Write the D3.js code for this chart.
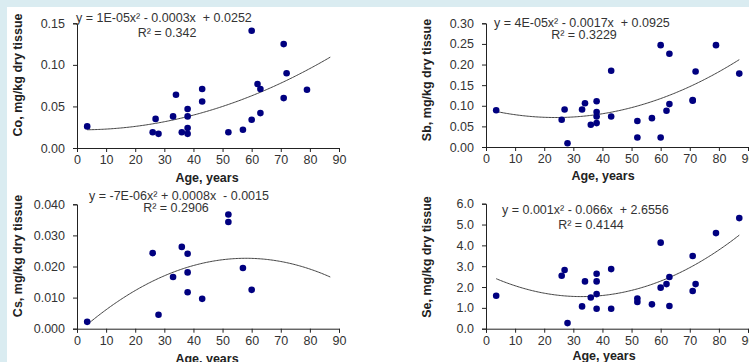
<!DOCTYPE html>
<html><head><meta charset="utf-8">
<script src="https://cdn.jsdelivr.net/npm/d3@7"></script>
<style>
html,body{margin:0;padding:0;background:#daecf1;}
svg{display:block;font-family:"Liberation Sans",Arial,sans-serif;}
</style></head>
<body>
<svg id="c" width="749" height="362"></svg>
<script>
// ---- data ----
const coAge = [3.5,26,27,28,33,34,36,38,38,38,38,43,43,52,57,60,60,62,63,63,71,71,72,79];
const coVal = [0.026,0.019,0.035,0.017,0.038,0.064,0.019,0.047,0.038,0.024,0.017,0.071,0.056,0.019,0.022,0.141,0.034,0.077,0.071,0.042,0.125,0.060,0.090,0.070];
const sbAge = [3.5,26,27,28,33,34,36,38,38,38,38,43,43,52,52,57,60,60,62,63,63,71,71,72,79,87];
const sbVal = [0.089,0.066,0.091,0.009,0.091,0.106,0.054,0.111,0.085,0.074,0.058,0.185,0.074,0.063,0.023,0.070,0.247,0.023,0.088,0.226,0.104,0.112,0.114,0.183,0.247,0.178];
const csAge = [3.5,26,28,33,36,38,38,38,43,52,52,57,60];
const csVal = [0.0022,0.0243,0.0045,0.0166,0.0263,0.0241,0.0181,0.0117,0.0096,0.0367,0.0343,0.0195,0.0125];
const seAge = [3.5,26,27,28,33,34,36,38,38,38,38,43,43,52,52,57,60,60,62,63,63,71,71,72,79,87];
const seVal = [1.58,2.54,2.82,0.27,1.07,2.27,1.5,2.64,2.27,1.66,0.96,2.86,0.96,1.45,1.28,1.17,4.13,1.97,2.14,2.48,1.09,3.49,1.81,2.14,4.59,5.31];
const trendRange = [3.5, 87];
const xTicks = [0,10,20,30,40,50,60,70,80,90];
const coTicks = [0,0.05,0.10,0.15];
const sbTicks = [0,0.05,0.10,0.15,0.20,0.25,0.30];
const csTicks = [0,0.01,0.02,0.03,0.04];
const seTicks = [0,1,2,3,4,5,6];
const yTitles = ["Co, mg/kg dry tissue","Sb, mg/kg dry tissue","Cs, mg/kg dry tissue","Se, mg/kg dry tissue"];
const xTitle = "Age, years";
const equations = ["y = 1E-05x² - 0.0003x  + 0.0252","y = 4E-05x² - 0.0017x  + 0.0925","y = -7E-06x² + 0.0008x  - 0.0015","y = 0.001x² - 0.066x  + 2.6556"];
const rSquared = ["R² = 0.342","R² = 0.3229","R² = 0.2906","R² = 0.4144"];

// ---- helpers ----
function quadFit(xs, ys){
  let S=[0,0,0,0,0], T=[0,0,0];
  xs.forEach((x,i)=>{const y=ys[i];let p=1;for(let k=0;k<5;k++){S[k]+=p;if(k<3)T[k]+=p*y;p*=x;}});
  const A=[[S[0],S[1],S[2],T[0]],[S[1],S[2],S[3],T[1]],[S[2],S[3],S[4],T[2]]];
  for(let i=0;i<3;i++){for(let j=i+1;j<3;j++){const f=A[j][i]/A[i][i];for(let k=i;k<4;k++)A[j][k]-=f*A[i][k];}}
  const c=[0,0,0];
  for(let i=2;i>=0;i--){let s=A[i][3];for(let k=i+1;k<3;k++)s-=A[i][k]*c[k];c[i]=s/A[i][i];}
  return x=>c[0]+c[1]*x+c[2]*x*x;
}

const svg = d3.select("#c");
svg.append("rect").attr("x",7).attr("y",7).attr("width",742).attr("height",355).attr("fill","#fff");

const panels = [
  {age:coAge,val:coVal,ticks:coTicks,dom:[0,0.15],fmt:".2f",L:77,R:339,T:23.3,B:148,tx:18,ty:75,
   eq:[76,18],r2:[167,33],xt:[207,182]},
  {age:sbAge,val:sbVal,ticks:sbTicks,dom:[0,0.30],fmt:".2f",L:486,R:748,T:23.3,B:147,tx:427,ty:80,
   eq:[494,23],r2:[584,35],xt:[603,180]},
  {age:csAge,val:csVal,ticks:csTicks,dom:[0,0.04],fmt:".3f",L:77,R:339,T:204.3,B:328.7,tx:18,ty:256,
   eq:[89,196],r2:[176,208],xt:[207,363]},
  {age:seAge,val:seVal,ticks:seTicks,dom:[0,6],fmt:".1f",L:486,R:748,T:203.7,B:328.7,tx:427,ty:257,
   eq:[502,210],r2:[591,225],xt:[604,360]}
];

panels.forEach((p,i)=>{
  const x = d3.scaleLinear().domain([0,90]).range([p.L,p.R]);
  const y = d3.scaleLinear().domain(p.dom).range([p.B,p.T]);
  const g = svg.append("g");
  // axes
  const ya = g.append("g").attr("transform",`translate(${p.L},0)`)
    .call(d3.axisLeft(y).tickValues(p.ticks).tickFormat(d3.format(p.fmt)).tickSize(4).tickPadding(8));
  const xa = g.append("g").attr("transform",`translate(0,${p.B})`)
    .call(d3.axisBottom(x).tickValues(xTicks).tickSize(4).tickPadding(3));
  [ya,xa].forEach(a=>{
    a.selectAll("path").attr("stroke","#222").attr("stroke-width",1);
    a.selectAll("line").attr("stroke","#222");
    a.selectAll("text").attr("fill","#333").style("font-size","12.5px").style("font-family","'Liberation Sans',Arial,sans-serif");
  });
  // trend
  const f = quadFit(p.age,p.val);
  const tx = d3.range(trendRange[0], trendRange[1]+0.01, 0.5);
  g.append("path").datum(tx)
    .attr("d", d3.line().x(d=>x(d)).y(d=>y(f(d))))
    .attr("fill","none").attr("stroke","#444").attr("stroke-width",1);
  // points
  g.selectAll("circle.pt").data(p.age.map((a,k)=>[a,p.val[k]])).join("circle")
    .attr("cx",d=>x(d[0])).attr("cy",d=>y(d[1])).attr("r",3.3).attr("fill","#000080");
  // titles
  g.append("text").attr("transform",`translate(${p.tx},${p.ty}) rotate(-90)`)
    .attr("text-anchor","middle").attr("dy","0.35em").style("font-weight","bold").style("font-size","12.5px")
    .attr("fill","#222").text(yTitles[i]);
  g.append("text").attr("x",p.xt[0]).attr("y",p.xt[1]).attr("text-anchor","middle")
    .style("font-weight","bold").style("font-size","12.5px").attr("fill","#222").text(xTitle);
  g.append("text").attr("x",p.eq[0]).attr("y",p.eq[1]).attr("dy","0.35em").style("white-space","pre")
    .style("font-size","12.5px").attr("fill","#333").text(equations[i]);
  g.append("text").attr("x",p.r2[0]).attr("y",p.r2[1]).attr("dy","0.35em").attr("text-anchor","middle")
    .style("font-size","12.5px").attr("fill","#333").text(rSquared[i]);
});
</script>
</body></html>
